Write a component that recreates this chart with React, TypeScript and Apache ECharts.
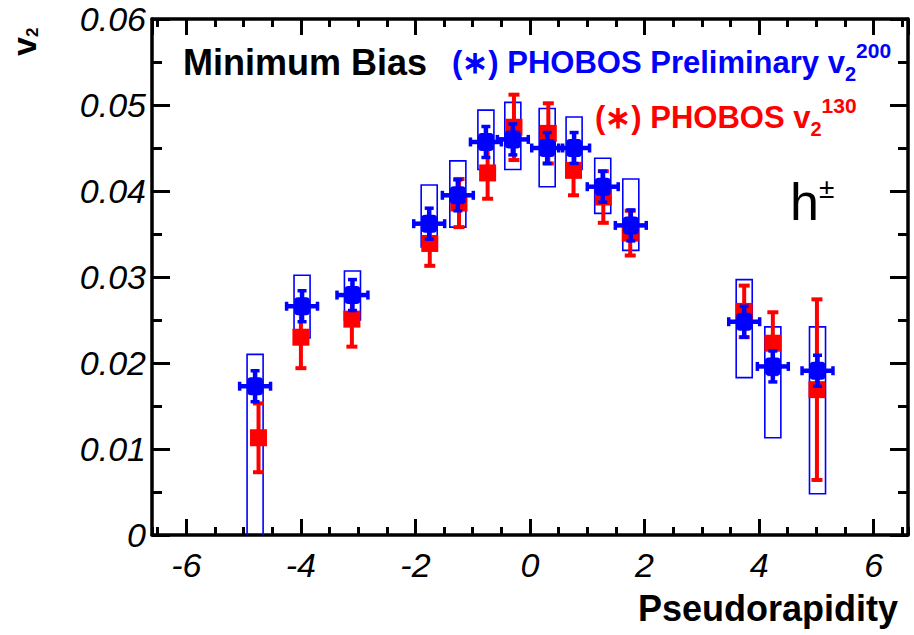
import React, { useEffect, useRef } from "react";
import * as echarts from "echarts";

// PHOBOS preliminary v2 at 200 GeV (blue): eta, v2, stat error, systematic band
const blueEta = [-4.8, -3.98, -3.1, -1.76, -1.26, -0.77, -0.3, 0.3, 0.77, 1.27, 1.76, 3.74, 4.24, 5.02];
const blueV2 = [0.0173, 0.0266, 0.0279, 0.0362, 0.0395, 0.0457, 0.046, 0.045, 0.045, 0.0405, 0.036, 0.0248, 0.0196, 0.0191];
const blueStat = [0.0018, 0.0018, 0.0018, 0.0018, 0.0018, 0.0018, 0.0018, 0.0018, 0.0018, 0.0018, 0.0018, 0.0018, 0.0018, 0.0018];
const blueSysLow = [-0.002, 0.0229, 0.025, 0.0335, 0.0358, 0.0425, 0.0425, 0.0405, 0.0425, 0.0374, 0.0331, 0.0183, 0.0113, 0.0048];
const blueSysHigh = [0.021, 0.0302, 0.0307, 0.0407, 0.0435, 0.0494, 0.0503, 0.0496, 0.0486, 0.0438, 0.0414, 0.0297, 0.0242, 0.0242];
const blueEtaErr = 0.27;
const blueBoxHalf = 0.14;

// PHOBOS v2 at 130 GeV (red): eta, v2, error
const redEta = [-4.74, -4.0, -3.11, -1.75, -1.24, -0.74, -0.28, 0.32, 0.76, 1.28, 1.75, 3.74, 4.24, 5.01];
const redV2 = [0.0113, 0.023, 0.0251, 0.0339, 0.0386, 0.0421, 0.0474, 0.0467, 0.0424, 0.0393, 0.0351, 0.026, 0.0223, 0.0169];
const redErr = [0.004, 0.0036, 0.0032, 0.0026, 0.0028, 0.003, 0.0038, 0.0035, 0.0029, 0.003, 0.0026, 0.003, 0.0036, 0.0105];

const etaRange = [-6.6, 6.6];
const v2Range = [0, 0.06];

const BLUE = "#0000ff";
const RED = "#ff0000";
const FONT = "'Liberation Sans', Arial, Helvetica, sans-serif";

export default function App() {
  const ref = useRef<HTMLDivElement>(null);

  useEffect(() => {
    if (!ref.current) return;
    const chart = echarts.init(ref.current, null, { renderer: "svg" });

    const frameLine = { show: true, onZero: false, lineStyle: { color: "#000", width: 3.5 } };
    const majorX = (position: string) => ({
      type: "value",
      min: etaRange[0],
      max: etaRange[1],
      minInterval: 2,
      maxInterval: 2,
      position,
      axisLine: frameLine,
      axisTick: { show: true, inside: true, length: 16, lineStyle: { color: "#000", width: 3 } },
      axisLabel:
        position === "bottom"
          ? {
              show: true,
              showMinLabel: false,
              showMaxLabel: false,
              fontStyle: "italic",
              fontSize: 34,
              fontFamily: FONT,
              color: "#000",
              margin: 13,
            }
          : { show: false },
      splitLine: { show: false },
    });
    const minorX = (position: string) => ({
      type: "value",
      min: etaRange[0],
      max: etaRange[1],
      minInterval: 0.5,
      maxInterval: 0.5,
      position,
      axisLine: { show: false, onZero: false },
      axisTick: { show: true, inside: true, length: 8, lineStyle: { color: "#000", width: 3 } },
      axisLabel: { show: false },
      splitLine: { show: false },
    });
    const yAxisOf = (position: string) => ({
      type: "value",
      min: v2Range[0],
      max: v2Range[1],
      interval: 0.01,
      position,
      axisLine: frameLine,
      axisTick: { show: true, inside: true, length: 18, lineStyle: { color: "#000", width: 3 } },
      minorTick: { show: true, splitNumber: 2, length: 10, lineStyle: { color: "#000", width: 3 } },
      axisLabel:
        position === "left"
          ? {
              show: true,
              fontStyle: "italic",
              fontSize: 34,
              fontFamily: FONT,
              color: "#000",
              margin: 6,
              formatter: (v: number) => (v === 0 ? "0" : v.toFixed(2)),
            }
          : { show: false },
      splitLine: { show: false },
      minorSplitLine: { show: false },
    });

    const boxData = blueEta.map((e, i) => [e, blueSysLow[i], blueSysHigh[i]]);
    const blueData = blueEta.map((e, i) => [e, blueV2[i], blueStat[i]]);
    const redData = redEta.map((e, i) => [e, redV2[i], redErr[i]]);

    const option = {
      animation: false,
      grid: { left: 152, right: 6, top: 19, bottom: 100, outerBoundsMode: "none", containLabel: false },
      xAxis: [majorX("bottom"), majorX("top"), minorX("top"), minorX("bottom")],
      yAxis: [yAxisOf("left"), yAxisOf("right")],
      series: [
        {
          type: "custom",
          name: "sys200",
          xAxisIndex: 0,
          yAxisIndex: 0,
          clip: true,
          data: boxData,
          encode: { x: 0, y: [1, 2] },
          renderItem: (_p: any, api: any) => {
            const x = api.value(0);
            const a = api.coord([x - blueBoxHalf, api.value(2)]);
            const b = api.coord([x + blueBoxHalf, api.value(1)]);
            return {
              type: "rect",
              shape: { x: a[0], y: a[1], width: b[0] - a[0], height: b[1] - a[1] },
              style: { fill: "none", stroke: BLUE, lineWidth: 1.6 },
            };
          },
        },
        {
          type: "custom",
          name: "v2 130",
          xAxisIndex: 0,
          yAxisIndex: 0,
          clip: true,
          data: redData,
          encode: { x: 0, y: 1 },
          renderItem: (_p: any, api: any) => {
            const x = api.value(0);
            const y = api.value(1);
            const err = api.value(2);
            const c = api.coord([x, y]);
            const top = api.coord([x, y + err]);
            const bot = api.coord([x, y - err]);
            const cap = 5.5;
            const s = 8.5;
            return {
              type: "group",
              children: [
                { type: "line", shape: { x1: c[0], y1: top[1], x2: c[0], y2: bot[1] }, style: { stroke: RED, lineWidth: 4 } },
                { type: "line", shape: { x1: c[0] - cap, y1: top[1], x2: c[0] + cap, y2: top[1] }, style: { stroke: RED, lineWidth: 4 } },
                { type: "line", shape: { x1: c[0] - cap, y1: bot[1], x2: c[0] + cap, y2: bot[1] }, style: { stroke: RED, lineWidth: 4 } },
                { type: "rect", shape: { x: c[0] - s, y: c[1] - s, width: 2 * s, height: 2 * s }, style: { fill: RED } },
              ],
            };
          },
        },
        {
          type: "custom",
          name: "v2 200",
          xAxisIndex: 0,
          yAxisIndex: 0,
          clip: true,
          data: blueData,
          encode: { x: 0, y: 1 },
          renderItem: (_p: any, api: any) => {
            const x = api.value(0);
            const y = api.value(1);
            const err = api.value(2);
            const c = api.coord([x, y]);
            const top = api.coord([x, y + err]);
            const bot = api.coord([x, y - err]);
            const l = api.coord([x - blueEtaErr, y]);
            const r = api.coord([x + blueEtaErr, y]);
            const cap = 4.5;
            return {
              type: "group",
              children: [
                { type: "line", shape: { x1: c[0], y1: top[1], x2: c[0], y2: bot[1] }, style: { stroke: BLUE, lineWidth: 4.5 } },
                { type: "line", shape: { x1: l[0], y1: c[1], x2: r[0], y2: c[1] }, style: { stroke: BLUE, lineWidth: 4.5 } },
                { type: "line", shape: { x1: c[0] - cap, y1: top[1], x2: c[0] + cap, y2: top[1] }, style: { stroke: BLUE, lineWidth: 3.5 } },
                { type: "line", shape: { x1: c[0] - cap, y1: bot[1], x2: c[0] + cap, y2: bot[1] }, style: { stroke: BLUE, lineWidth: 3.5 } },
                { type: "line", shape: { x1: l[0], y1: c[1] - cap, x2: l[0], y2: c[1] + cap }, style: { stroke: BLUE, lineWidth: 3.5 } },
                { type: "line", shape: { x1: r[0], y1: c[1] - cap, x2: r[0], y2: c[1] + cap }, style: { stroke: BLUE, lineWidth: 3.5 } },
                { type: "rect", shape: { x: c[0] - 8, y: c[1] - 9, width: 16, height: 18, r: 4 }, style: { fill: BLUE } },
              ],
            };
          },
        },
      ],
      graphic: [
        {
          type: "text",
          x: 183,
          y: 62,
          style: {
            text: "Minimum Bias",
            font: `bold 36px ${FONT}`,
            fill: "#000",
            textVerticalAlign: "middle",
          },
        },
        {
          type: "text",
          x: 452,
          y: 62,
          style: {
            text: "{m|(∗) PHOBOS Preliminary v}{sub|2}{sup|200}",
            textVerticalAlign: "middle",
            rich: {
              m: { fontSize: 31, fontWeight: "bold", fontFamily: FONT, fill: BLUE, lineHeight: 44 },
              sub: { fontSize: 20, fontWeight: "bold", fontFamily: FONT, fill: BLUE, verticalAlign: "bottom", lineHeight: 20 },
              sup: { fontSize: 21, fontWeight: "bold", fontFamily: FONT, fill: BLUE, verticalAlign: "top", lineHeight: 20 },
            },
          },
        },
        {
          type: "text",
          x: 595,
          y: 117,
          style: {
            text: "{m|(∗) PHOBOS v}{sub|2}{sup|130}",
            textVerticalAlign: "middle",
            rich: {
              m: { fontSize: 31, fontWeight: "bold", fontFamily: FONT, fill: RED, lineHeight: 44 },
              sub: { fontSize: 20, fontWeight: "bold", fontFamily: FONT, fill: RED, verticalAlign: "bottom", lineHeight: 20 },
              sup: { fontSize: 21, fontWeight: "bold", fontFamily: FONT, fill: RED, verticalAlign: "top", lineHeight: 20 },
            },
          },
        },
        {
          type: "text",
          x: 790,
          y: 202,
          style: {
            text: "{h|h}{pm|±}",
            textVerticalAlign: "middle",
            rich: {
              h: { fontSize: 52, fontFamily: FONT, fill: "#000", lineHeight: 56 },
              pm: { fontSize: 28, fontFamily: FONT, fill: "#000", verticalAlign: "top", lineHeight: 30 },
            },
          },
        },
        {
          // rotated y-axis title, reading bottom to top
          type: "text",
          x: 24,
          y: 56,
          rotation: Math.PI / 2,
          style: {
            text: "{v|v}{s|2}",
            textVerticalAlign: "middle",
            rich: {
              v: { fontSize: 34, fontWeight: "bold", fontFamily: FONT, fill: "#000", lineHeight: 34 },
              s: { fontSize: 17, fontWeight: "bold", fontFamily: FONT, fill: "#000", verticalAlign: "bottom", lineHeight: 17 },
            },
          },
        },
        {
          type: "text",
          x: 898,
          y: 608,
          style: {
            text: "Pseudorapidity",
            font: `bold 36px ${FONT}`,
            fill: "#000",
            textAlign: "right",
            textVerticalAlign: "middle",
          },
        },
      ],
    };

    chart.setOption(option as any);
    return () => chart.dispose();
  }, []);

  return (
    <div
      ref={ref}
      style={{ position: "fixed", left: 0, top: 0, width: 914, height: 635, background: "#fff" }}
    />
  );
}
